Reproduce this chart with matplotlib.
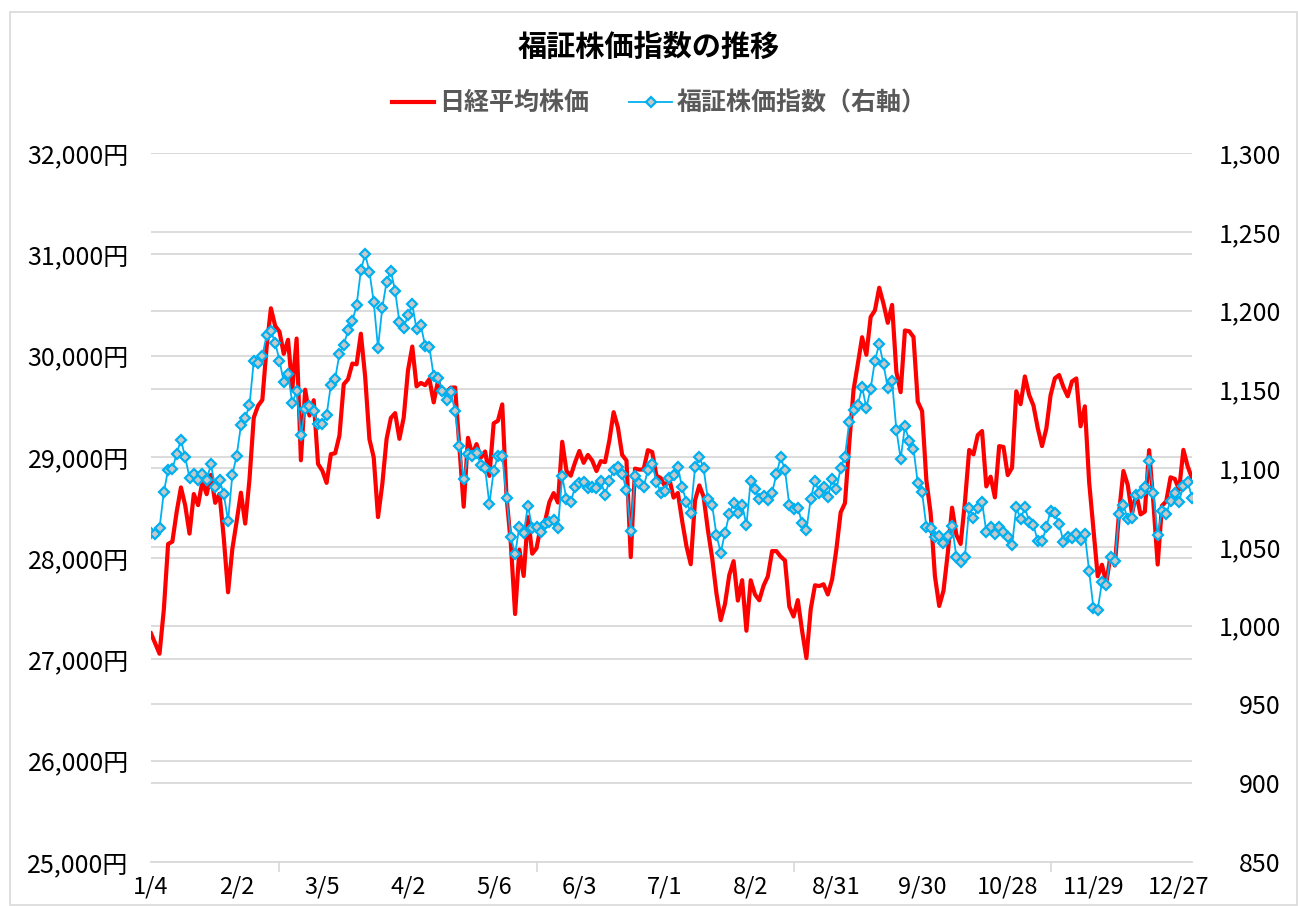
import numpy as np
import matplotlib
matplotlib.use("Agg")
import matplotlib.pyplot as plt
from matplotlib.patches import Rectangle

plt.rcParams['font.family'] = ['Noto Sans CJK JP', 'DejaVu Sans']

# 日経平均株価（円）2021年の営業日
nikkei = [
    27258, 27158, 27056, 27490, 28139, 28164, 28456, 28698, 28519, 28242,
    28633, 28523, 28756, 28631, 28822, 28546, 28635, 28197, 27663,
    28091, 28362, 28646, 28341, 28779, 29388, 29505, 29562, 30084, 30467,
    30292, 30236, 30017, 30156, 29671, 30168, 28966,
    29663, 29408, 29559, 28930, 28864, 28743, 29027, 29036, 29211, 29717,
    29766, 29921, 29914, 30216, 29792, 29174, 28995, 28405, 28729, 29176,
    29384, 29432, 29178,
    29388, 29854, 30089, 29696, 29730, 29708, 29768, 29538, 29751, 29620,
    29642, 29683, 29685, 29100, 28508, 29188, 29020, 29126, 28991, 29053,
    28812,
    29331, 29357, 29518, 28608, 28147, 27448, 28084, 27824, 28406, 28044,
    28098, 28317, 28364, 28553, 28642, 28549, 29149, 28860,
    28814, 28946, 29058, 28941, 29019, 28963, 28860, 28958, 28948, 29161,
    29441, 29291, 29018, 28964, 28010, 28884, 28874, 28875, 29066, 29048,
    28812, 28791,
    28707, 28783, 28598, 28643, 28366, 28118, 27940, 28569, 28718, 28608,
    28279, 28003, 27652, 27388, 27548, 27833, 27970, 27581, 27782, 27283,
    27781, 27641, 27584, 27728, 27820, 28070, 28069, 28015, 27977, 27523,
    27424, 27585, 27281, 27013, 27494, 27732, 27724, 27742, 27641, 27789,
    28089,
    28451, 28543, 29128, 29660, 29916, 30181, 30008, 30381, 30447, 30670,
    30511, 30323, 30500, 29839, 29639, 30248, 30240, 30183, 29544, 29452,
    28771, 28444, 27822, 27528, 27678, 28048, 28498, 28230, 28140, 28550,
    29068, 29025, 29215, 29255, 28708, 28804, 28600, 29106, 29098, 28820,
    28892,
    29647, 29520, 29794, 29611, 29507, 29285, 29106, 29277, 29609, 29776,
    29808, 29688, 29598, 29745, 29774, 29302, 29499, 28751, 28283, 27821,
    27935, 27753, 28029, 27927, 28455, 28860, 28725, 28437, 28640, 28432,
    28459, 29066, 28545, 27937, 28517, 28562, 28798, 28782, 28676, 29069,
    28906, 28792,
]

# 福証株価指数（右軸）
fukusho = [
    1058.6, 1058.0, 1061.8, 1084.7, 1098.9, 1099.5, 1109.1, 1118.0, 1106.8, 1094.0,
    1096.4, 1092.5, 1096.4, 1092.5, 1102.5, 1087.9, 1092.5, 1083.4, 1066.6, 1095.7,
    1107.8, 1127.1, 1131.8, 1139.9, 1167.9, 1166.8, 1171.1, 1184.4, 1187.0, 1179.5,
    1168.3, 1154.7, 1159.8, 1141.3, 1148.8, 1120.8, 1137.7, 1139.6, 1136.0, 1128.0,
    1128.2, 1133.5, 1153.0, 1156.8, 1172.5, 1178.1, 1187.4, 1193.3, 1203.3, 1225.6,
    1235.8, 1224.7, 1205.4, 1176.4, 1201.8, 1218.2, 1225.2, 1212.4, 1192.7, 1189.1,
    1196.9, 1204.0, 1188.0, 1190.6, 1177.8, 1176.8, 1158.3, 1157.3, 1148.8, 1143.5,
    1148.1, 1136.0, 1113.8, 1092.8, 1109.1, 1107.4, 1109.9, 1102.1, 1100.0, 1077.1,
    1098.3, 1107.8, 1107.4, 1081.3, 1056.5, 1045.4, 1062.8, 1058.6, 1076.2, 1061.8,
    1062.8, 1059.7, 1064.3, 1066.0, 1067.1, 1062.2, 1094.7, 1080.2, 1078.3, 1088.3,
    1090.4, 1091.1, 1087.2, 1088.3, 1087.2, 1092.1, 1083.0, 1091.9, 1098.9, 1100.4,
    1096.1, 1086.2, 1060.1, 1094.7, 1090.8, 1087.9, 1098.9, 1102.5, 1091.5, 1084.5,
    1085.5, 1093.6, 1095.7, 1100.4, 1087.7, 1078.7, 1071.7, 1100.4, 1107.2, 1100.0,
    1080.2, 1076.6, 1057.5, 1046.3, 1059.0, 1070.7, 1077.7, 1071.7, 1076.6, 1063.9,
    1092.1, 1086.6, 1080.2, 1082.4, 1079.8, 1084.5, 1096.1, 1106.8, 1098.9, 1076.6,
    1074.1, 1074.9, 1065.0, 1060.7, 1080.4, 1092.1, 1084.1, 1087.9, 1081.5, 1093.0,
    1086.6, 1100.0, 1107.2, 1129.3, 1137.1, 1139.9, 1151.5, 1138.2, 1150.5, 1168.3,
    1178.9, 1165.8, 1150.9, 1155.1, 1124.4, 1105.9, 1126.5, 1117.4, 1112.3, 1090.4,
    1084.7, 1062.8, 1062.2, 1056.5, 1057.1, 1052.2, 1057.1, 1063.5, 1043.7, 1040.6,
    1043.7, 1074.9, 1068.1, 1074.5, 1078.3, 1059.7, 1062.8, 1058.2, 1062.8, 1059.2,
    1056.5, 1051.2, 1075.1, 1067.5, 1075.1, 1066.0, 1063.9, 1053.7, 1053.7, 1062.4,
    1073.0, 1071.3, 1064.3, 1053.3, 1056.5, 1055.8, 1057.9, 1054.3, 1057.9, 1034.8,
    1011.3, 1010.2, 1027.8, 1026.1, 1043.7, 1041.0, 1070.9, 1076.6, 1067.7, 1068.6,
    1083.0, 1084.1, 1087.9, 1104.8, 1084.1, 1057.5, 1073.0, 1070.9, 1079.2, 1084.1,
    1078.7, 1088.9, 1091.5, 1081.3,
]

# x軸の日付ラベル（20営業日ごと）
date_labels = ['1/4', '2/2', '3/5', '4/2', '5/6', '6/3', '7/1', '8/2',
               '8/31', '9/30', '10/28', '11/29', '12/27']

x = np.arange(len(nikkei))
grid_col = '#d9d9d9'

fig, ax = plt.subplots(figsize=(12.98, 9.06), dpi=100)
fig.subplots_adjust(left=0.1163, right=0.9183, bottom=0.0486, top=0.8311)

# 右軸の目盛線だけを描く下敷き
ax_g = ax.twinx()
ax2 = ax.twinx()
ax_g.set_zorder(0)
ax.set_zorder(1)
ax2.set_zorder(2)
ax.patch.set_visible(False)

# 日経平均（左軸）
l1, = ax.plot(x, nikkei, color='#FF0000', lw=3.0, label='日経平均株価', zorder=3)
ax.set_ylim(25000, 32000)
ax.set_yticks(np.arange(25000, 32001, 1000))
ax.set_yticklabels([f'{v:,}円' for v in range(25000, 32001, 1000)])
ax.yaxis.grid(True, color=grid_col, lw=1.3)
ax.set_axisbelow(True)

# 福証株価指数（右軸）
l2, = ax2.plot(x, fukusho, color='#00B0F0', lw=1.3, marker='D', markersize=5.5,
               markerfacecolor='#C8C8C8', markeredgecolor='#00B0F0',
               markeredgewidth=1.6, label='福証株価指数（右軸）')
ax2.set_ylim(850, 1300)
ax2.set_yticks(np.arange(850, 1301, 50))
ax2.set_yticklabels([f'{v:,}' for v in range(850, 1301, 50)])

ax_g.set_ylim(850, 1300)
ax_g.set_yticks(np.arange(850, 1301, 50))
ax_g.yaxis.grid(True, color=grid_col, lw=1.3)
ax_g.tick_params(axis='y', length=0, labelright=False)

ax.set_xlim(0, len(nikkei) - 1)
ax.set_xticks(np.arange(0, 20 * len(date_labels), 20))
ax.set_xticklabels(date_labels)
ax.set_xticks(np.arange(0, len(nikkei), 30), minor=True)
ax.tick_params(axis='x', which='major', length=0, pad=10, labelsize=17)
ax.tick_params(axis='x', which='minor', length=7, width=1.2, color=grid_col)
ax.tick_params(axis='y', length=0, pad=16, labelsize=18)
ax2.tick_params(axis='y', length=0, pad=64, labelsize=18)
for lbl in ax2.get_yticklabels():
    lbl.set_horizontalalignment('right')

for a in (ax, ax2, ax_g):
    for s in ('top', 'left', 'right'):
        a.spines[s].set_visible(False)
    a.spines['bottom'].set_visible(False)
ax.spines['bottom'].set_visible(True)
ax.spines['bottom'].set_color(grid_col)
ax.spines['bottom'].set_linewidth(1.3)

fig.text(0.5, 0.948, '福証株価指数の推移', ha='center', va='center',
         fontsize=21, fontweight='bold', color='black')

leg = fig.legend(handles=[l1, l2], loc='center', bbox_to_anchor=(0.508, 0.886),
                 ncol=2, frameon=False, fontsize=18, handlelength=1.7,
                 handletextpad=0.2, columnspacing=1.6)
for t in leg.get_texts():
    t.set_color('#595959')
    t.set_fontweight('bold')

# グラフエリアの枠
fig.patches.append(Rectangle((10 / 1298, 1 / 906), 1287 / 1298, 893 / 906,
                             transform=fig.transFigure, fill=False,
                             edgecolor=grid_col, lw=1.2))

fig.savefig('out.png', dpi=100, facecolor='white')
